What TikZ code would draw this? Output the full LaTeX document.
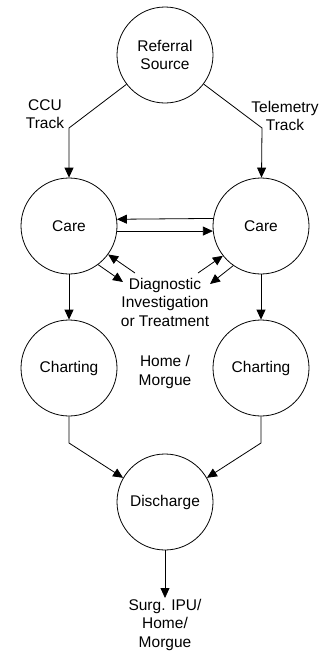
\documentclass[tikz,border=0pt]{standalone}
\usepackage{fontspec}
\setmainfont{Liberation Sans}
\usetikzlibrary{arrows.meta}
\begin{document}
\begin{tikzpicture}[x=1pt,y=-1pt,
  every node/.style={font=\fontsize{15.5}{18.5}\selectfont},
  stage/.style={draw,circle,minimum size=96pt,inner sep=0pt,line width=0.8pt,align=center},
  lbl/.style={align=center,inner sep=1pt},
  conn/.style={line width=0.8pt,-{Triangle[length=10pt,width=9pt]}},
  plain/.style={line width=0.8pt}]
\useasboundingbox (0,0) rectangle (326,656);
\node[stage] (ref) at (165,55) {Referral\\Source};
\node[stage] (careL) at (69,226) {Care};
\node[stage] (careR) at (261,226) {Care};
\node[stage] (chL) at (69,368) {Charting};
\node[stage] (chR) at (261,368) {Charting};
\node[stage] (disc) at (165,502) {Discharge};
\node[lbl] (ccu) at (45,114) {CCU\\Track};
\node[lbl] (tel) at (285,116) {Telemetry\\Track};
\node[lbl] (diag) at (165,302) {Diagnostic\\Investigation\\or Treatment};
\node[lbl] (home) at (165,372) {Home /\\Morgue};
\node[lbl,anchor=north] (out) at (165,598) {Surg. IPU/\\Home/\\Morgue};
\coordinate (bendL) at (69,128);
\coordinate (bendR) at (262,128);
\coordinate (bendCL) at (69,443);
\coordinate (bendCR) at (261,443);
\coordinate (dL1) at (135,273);
\coordinate (dL2) at (123,282);
\coordinate (dR1) at (198,273);
\coordinate (dR2) at (210,284);
\draw[conn] (ref) -- (bendL) -- (careL);
\draw[conn] (ref) -- (bendR) -- (careR);
\draw[conn] (careR.171.6) -- (careL.8.4);
\draw[conn] (careL.-6) -- (careR.186);
\draw[conn] (dL1) -- (careL.-36);
\draw[conn] (careL.-53) -- (dL2);
\draw[conn] (dR1) -- (careR.218);
\draw[conn] (careR.235) -- (dR2);
\draw[conn] (careL) -- (chL);
\draw[conn] (careR) -- (chR);
\draw[conn] (chL) -- (bendCL) -- (disc.150);
\draw[conn] (chR) -- (bendCR) -- (disc.30);
\draw[conn] (disc) -- (out);
\end{tikzpicture}
\end{document}
